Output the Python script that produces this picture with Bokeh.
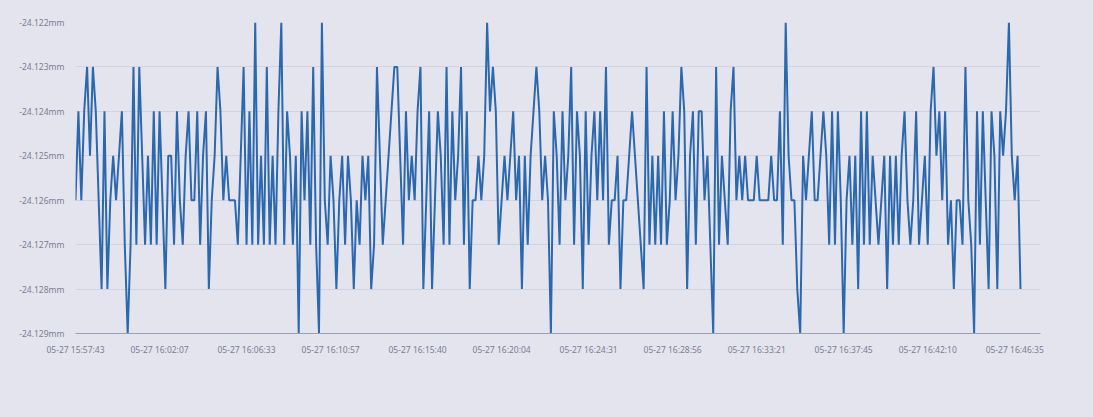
from bokeh.plotting import figure
from bokeh.models import FixedTicker, PrintfTickFormatter, Range1d, ColumnDataSource
from bokeh.embed import file_html
from bokeh.resources import INLINE

# measured offsets in micrometres below -24.000 mm (value = -(24 + um/1000))
seg_a = [126,124,126,124,123,125,123,124,126,128,124,128,126,125,126,125,124,127,129,127,123,127,123]
seg_b = [125,127,125,127,124,127,124,126,128,125,125,127,124,126,127,125,124,126,126,124,127,125,124,128,126,125,123]
seg_c = [124,126,125,126,126,126,127,125,123,127,124,127,122,127,125,127,123,127,125,127,124,122,127,124,125,127,125,129]
seg_d = [124,126,124,127,123,127,129,122,126,127,125,126,128,126,125,127,125,126,128,126,127,125,126,125,128,127,123,125,127,126,125,124,123,123,125,127]
seg_e = [124,126,125,126,124,123,128,126,124,128,126,124,125,127,123,127,124,126,125,123,127,124,128,126,126,125,126,125,122,124,
         123,124,127,126,125,126,125,124,126,125,128,125,127,125,124,123,124,126,125,126,129,124,125,127,124,126,125,123,127,124,
         125,128,124,127,125,124,126,124,126,123,127,126,126,125,128,126,126,125,124,125,126,127,128,123,127,125,127,125,127,124,
         127,126,124,126,125,123,124,128,125,124,127,124,124,126,125,127,129,123,127,125,126,127,124,123]
seg_f = [126,125,126,125,126,126,126,125,126,126,126,126,125,126,126,124,127,122,125,126,126,128,129]
seg_g = [125,126,125,124,126,126,125,124,125,127,124,127,124,126,129,126,125,127,125,128,124,127,124,127,125,126,127,126,125,128,
         125,127,125,127,125,124,126,127,126,124,127,126,125,127,124,123,125,124,126,124,127,126,128,126,126,127,123,126,127,129,
         124,127,124,126,128,124,125,128,124,125,124,122,125,126,125,128]

offset_um = seg_a + seg_b + seg_c + seg_d + seg_e + seg_f + seg_g
depth_mm = [-(24 + u / 1000) for u in offset_um]
index = list(range(len(offset_um)))

y_ticks = [-24.122, -24.123, -24.124, -24.125, -24.126, -24.127, -24.128, -24.129]
x_tick_labels = ["05-27 15:57:43", "05-27 16:02:07", "05-27 16:06:33", "05-27 16:10:57",
                 "05-27 16:15:40", "05-27 16:20:04", "05-27 16:24:31", "05-27 16:28:56",
                 "05-27 16:33:21", "05-27 16:37:45", "05-27 16:42:10", "05-27 16:46:35"]

N = len(offset_um)
step = (N - 1) * 938.0 / 945.0 / 11.0
x_ticks = [int(round(k * step)) for k in range(12)]

bg = "#e4e4ef"
p = figure(width=1093, height=417, output_backend="svg", toolbar_location=None,
           min_border_left=75, min_border_right=53, min_border_top=22, min_border_bottom=84,
           background_fill_color=bg, border_fill_color=bg, outline_line_color=None)
p.x_range = Range1d(0, (N - 1) * 965.0 / 945.0)
p.y_range = Range1d(-24.129, -24.122)

src = ColumnDataSource(dict(x=index, y=depth_mm))
p.line("x", "y", source=src, line_color="#2b68ae", line_width=2)

p.yaxis.ticker = FixedTicker(ticks=y_ticks)
p.yaxis.formatter = PrintfTickFormatter(format="%.3fmm")
p.xaxis.ticker = FixedTicker(ticks=x_ticks)
p.xaxis.major_label_overrides = {t: lab for t, lab in zip(x_ticks, x_tick_labels)}

for ax in (p.xaxis, p.yaxis):
    ax.major_label_text_font = "Noto Sans"
    ax.major_label_text_font_size = "8.5px"
    ax.major_label_text_color = "#7a7d90"
    ax.minor_tick_line_color = None
    ax.major_tick_line_color = None
p.yaxis.axis_line_color = None
p.xaxis.axis_line_color = "#9aa0b8"
p.xaxis.major_label_standoff = 4
p.yaxis.major_label_standoff = 5
p.xgrid.grid_line_color = None
p.ygrid.grid_line_color = "#d2d3e0"

html = file_html(p, INLINE)
html = html.replace("<head>", "<head><style>html,body{background:#e4e4ef;margin:0;}</style>", 1)
open("out.html", "w").write(html)
